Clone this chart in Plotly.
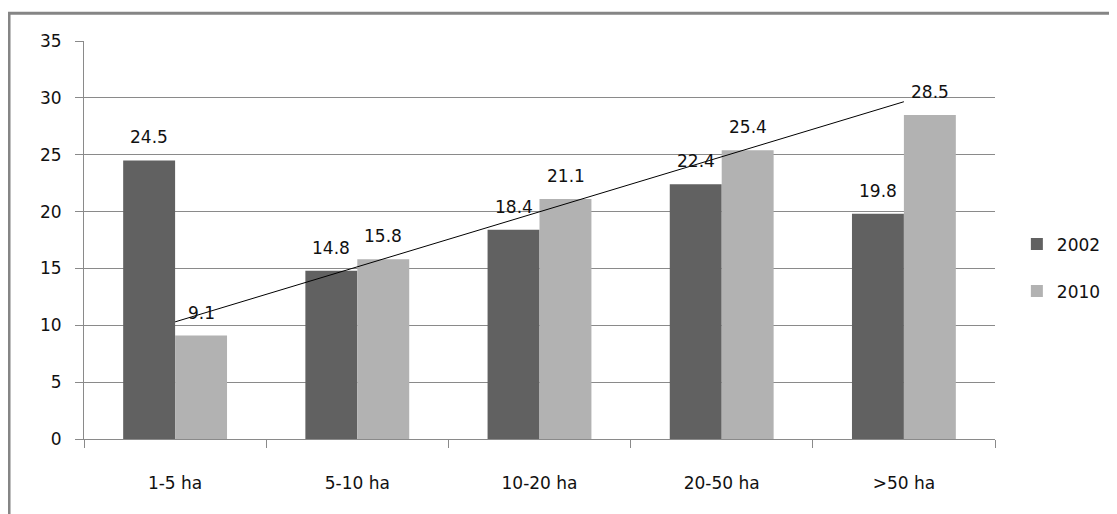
import numpy as np
import plotly.graph_objects as go

categories = ["1-5 ha", "5-10 ha", "10-20 ha", "20-50 ha", ">50 ha"]
values_2002 = [24.5, 14.8, 18.4, 22.4, 19.8]
values_2010 = [9.1, 15.8, 21.1, 25.4, 28.5]
series_names = ["2002", "2010"]
y_ticks = [0, 5, 10, 15, 20, 25, 30, 35]

dark = "#616161"
light = "#b2b2b2"
grid = "#8a8a8a"
font_family = "DejaVu Sans"

# linear trendline of 2010 series
xi = np.arange(len(categories))
slope, intercept = np.polyfit(xi, values_2010, 1)
trend = [intercept + slope * i for i in xi]

fig = go.Figure()
fig.add_trace(go.Bar(x=categories, y=values_2002, name=series_names[0],
                     marker=dict(color=dark, line=dict(width=0)), legendgroup="a"))
fig.add_trace(go.Bar(x=categories, y=values_2010, name=series_names[1],
                     marker=dict(color=light, line=dict(width=0)), legendgroup="b"))
fig.add_trace(go.Scatter(x=categories, y=trend, mode="lines",
                         line=dict(color="black", width=1), showlegend=False,
                         hoverinfo="skip"))

# data labels
for vals, off in ((values_2002, -0.5), (values_2010, 0.5)):
    for c, v in zip(categories, vals):
        fig.add_annotation(x=c, y=v, text=f"{v:.1f}", showarrow=False,
                           xref="x", yref="y", yshift=23, yanchor="middle",
                           xshift=off * 52,
                           font=dict(family=font_family, size=17, color="#111"))

fig.add_shape(type="rect", xref="paper", yref="paper",
              x0=-0.0823, x1=1.3, y0=-0.3, y1=1.07,
              line=dict(color="#858585", width=3), fillcolor="rgba(0,0,0,0)",
              layer="below")

fig.update_layout(
    width=1109, height=506,
    margin=dict(l=76, r=122, t=33, b=75, autoexpand=False),
    paper_bgcolor="white", plot_bgcolor="white",
    barmode="group", bargap=0.43, bargroupgap=0,
    font=dict(family=font_family, size=17, color="#111"),
    legend=dict(x=1.024, y=0.43, xanchor="left", yanchor="middle",
                font=dict(size=17), tracegroupgap=22, traceorder="grouped",
                itemwidth=30),
    showlegend=True,
)
fig.update_xaxes(type="category", showline=True, linecolor=grid, linewidth=1,
                 ticks="outside", ticklen=8, tickcolor=grid, tickson="boundaries",
                 ticklabelstandoff=29, showgrid=False, mirror=False)
fig.update_yaxes(range=[0, 35], tickvals=y_ticks, showgrid=True, gridcolor=grid,
                 gridwidth=1, showline=True, linecolor=grid, linewidth=1,
                 ticks="outside", ticklen=8, tickcolor=grid,
                 ticklabelstandoff=10, zeroline=False)

fig.write_html("out.html")
